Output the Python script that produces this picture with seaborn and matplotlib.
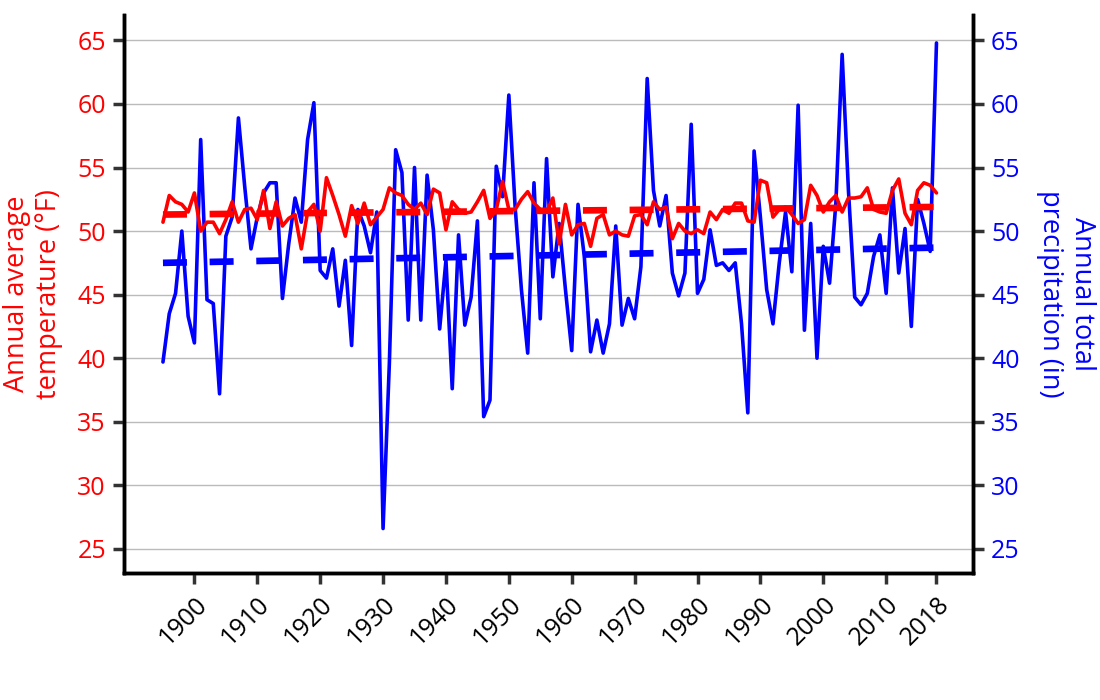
import matplotlib
matplotlib.use("Agg")
import matplotlib.pyplot as plt
import seaborn as sns
import pandas as pd

# annual values, 1895-2018
years = list(range(1895, 2019))

temperature = [
    50.7, 52.8, 52.3, 52.1, 51.5, 53.0, 50.0, 50.7, 50.7, 49.8,  # 1895-1904
    50.9, 52.3, 50.7, 51.7, 51.8, 50.9, 53.2, 50.2, 52.3, 50.4,  # 1905-1914
    51.0, 51.3, 48.6, 51.5, 52.1, 50.0, 54.2, 52.8, 51.3, 49.6,  # 1915-1924
    52.0, 50.6, 52.2, 50.5, 51.1, 51.7, 53.4, 53.0, 52.8, 52.1,  # 1925-1934
    51.7, 52.2, 51.3, 53.3, 53.0, 50.1, 52.3, 51.7, 51.4, 51.5,  # 1935-1944
    52.3, 53.2, 51.0, 51.7, 53.9, 51.7, 51.7, 52.5, 53.1, 52.2,  # 1945-1954
    51.7, 51.5, 52.6, 49.0, 52.1, 49.7, 50.5, 50.6, 48.8, 51.0,  # 1955-1964
    51.3, 49.7, 50.0, 49.7, 49.6, 51.2, 51.3, 50.5, 52.3, 51.7,  # 1965-1974
    51.9, 49.4, 50.6, 50.0, 49.8, 50.1, 49.8, 51.5, 50.9, 51.7,  # 1975-1984
    51.4, 52.2, 52.2, 50.8, 50.7, 54.0, 53.8, 51.1, 51.7, 51.9,  # 1985-1994
    51.3, 50.6, 50.9, 53.6, 52.8, 51.5, 52.3, 52.8, 51.5, 52.6,  # 1995-2004
    52.6, 52.7, 53.4, 51.7, 51.5, 51.4, 53.2, 54.1, 51.4, 50.5,  # 2005-2014
    53.2, 53.8, 53.6, 53.0,                                      # 2015-2018
]

precipitation = [
    39.7, 43.5, 45.1, 50.0, 43.3, 41.2, 57.2, 44.6, 44.3, 37.2,  # 1895-1904
    49.6, 51.1, 58.9, 53.5, 48.6, 51.1, 53.0, 53.8, 53.8, 44.7,  # 1905-1914
    49.0, 52.6, 50.7, 57.2, 60.1, 46.9, 46.3, 48.6, 44.1, 47.7,  # 1915-1924
    41.0, 51.7, 50.4, 48.3, 51.5, 26.6, 39.6, 56.4, 54.6, 43.0,  # 1925-1934
    55.0, 43.0, 54.4, 50.1, 42.3, 47.7, 37.6, 49.7, 42.6, 44.8,  # 1935-1944
    50.8, 35.4, 36.7, 55.1, 52.7, 60.7, 51.9, 45.4, 40.4, 53.8,  # 1945-1954
    43.1, 55.7, 46.4, 50.6, 45.4, 40.6, 52.1, 48.0, 40.5, 43.0,  # 1955-1964
    40.4, 42.7, 50.4, 42.6, 44.7, 43.1, 47.2, 62.0, 53.2, 50.4,  # 1965-1974
    52.8, 46.7, 44.9, 46.7, 58.4, 45.1, 46.2, 50.1, 47.3, 47.5,  # 1975-1984
    46.9, 47.5, 42.7, 35.7, 56.3, 51.1, 45.4, 42.7, 47.5, 51.5,  # 1985-1994
    46.8, 59.9, 42.2, 50.6, 40.0, 48.8, 45.9, 52.2, 63.9, 53.2,  # 1995-2004
    44.8, 44.2, 45.1, 48.0, 49.7, 45.1, 53.4, 46.7, 50.2, 42.5,  # 2005-2014
    52.5, 50.6, 48.4, 64.8,                                      # 2015-2018
]

# long-term trend lines (end points)
trend_years = [1895, 2018]
temperature_trend = [51.3, 51.9]
precipitation_trend = [47.5, 48.7]

y_ticks = [25, 30, 35, 40, 45, 50, 55, 60, 65]
x_ticks = [1900, 1910, 1920, 1930, 1940, 1950, 1960, 1970, 1980, 1990, 2000, 2010, 2018]

df = pd.DataFrame({"year": years, "temp": temperature, "precip": precipitation})
trend_df = pd.DataFrame({"year": trend_years, "temp": temperature_trend,
                         "precip": precipitation_trend})

sns.set_style("white")
plt.rcParams["font.family"] = ["Open Sans", "DejaVu Sans"]

fig = plt.figure(figsize=(11, 7), dpi=100)
ax = fig.add_axes([0.1127, 0.1814, 0.7718, 0.7972])
ax2 = ax.twinx()

# precipitation on the right axis, drawn underneath
sns.lineplot(data=df, x="year", y="precip", ax=ax2, color="#0000ff", linewidth=2.6)
sns.lineplot(data=trend_df, x="year", y="precip", ax=ax2, color="#0000ff",
             linewidth=4.8, linestyle=(0, (3.6, 3.4)))

# temperature on the left axis, on top
sns.lineplot(data=df, x="year", y="temp", ax=ax, color="#ff0000", linewidth=2.6)
sns.lineplot(data=trend_df, x="year", y="temp", ax=ax, color="#ff0000",
             linewidth=4.8, linestyle=(0, (3.6, 3.4)))
ax.set_zorder(ax2.get_zorder() + 1)
ax.patch.set_visible(False)

for a in (ax, ax2):
    a.set_ylim(23.1, 67.0)
    a.set_yticks(y_ticks)
    a.set_xlim(1888.8, 2023.8)
    a.spines["top"].set_visible(False)
    for s in ("left", "right", "bottom"):
        a.spines[s].set_linewidth(2.5)
        a.spines[s].set_color("black")

ax2.grid(axis="y", color="#bbbbbb", linewidth=1)
ax.grid(False)

ax.set_xticks(x_ticks)
ax.set_xticklabels([str(t) for t in x_ticks], rotation=45, ha="right",
                   rotation_mode="anchor", fontsize=18)
ax.tick_params(axis="x", direction="out", length=8, width=2.5, color="#333333",
               labelcolor="black", pad=6, bottom=True)
ax.tick_params(axis="y", direction="out", length=8, width=2.5, color="#333333",
               labelcolor="#ff0000", labelsize=18, pad=5, left=True)
ax2.tick_params(axis="y", direction="out", length=8, width=2.5, color="#333333",
                labelcolor="#0000ff", labelsize=18, pad=5, right=True)

ax.set_xlabel("")
ax.set_ylabel("Annual average\ntemperature (°F)", color="#ff0000", fontsize=19.5,
              labelpad=10)
ax2.set_ylabel("Annual total\nprecipitation (in)", color="#0000ff", fontsize=19.5,
               rotation=270, va="bottom", labelpad=12)

fig.savefig("out.png", dpi=100)
